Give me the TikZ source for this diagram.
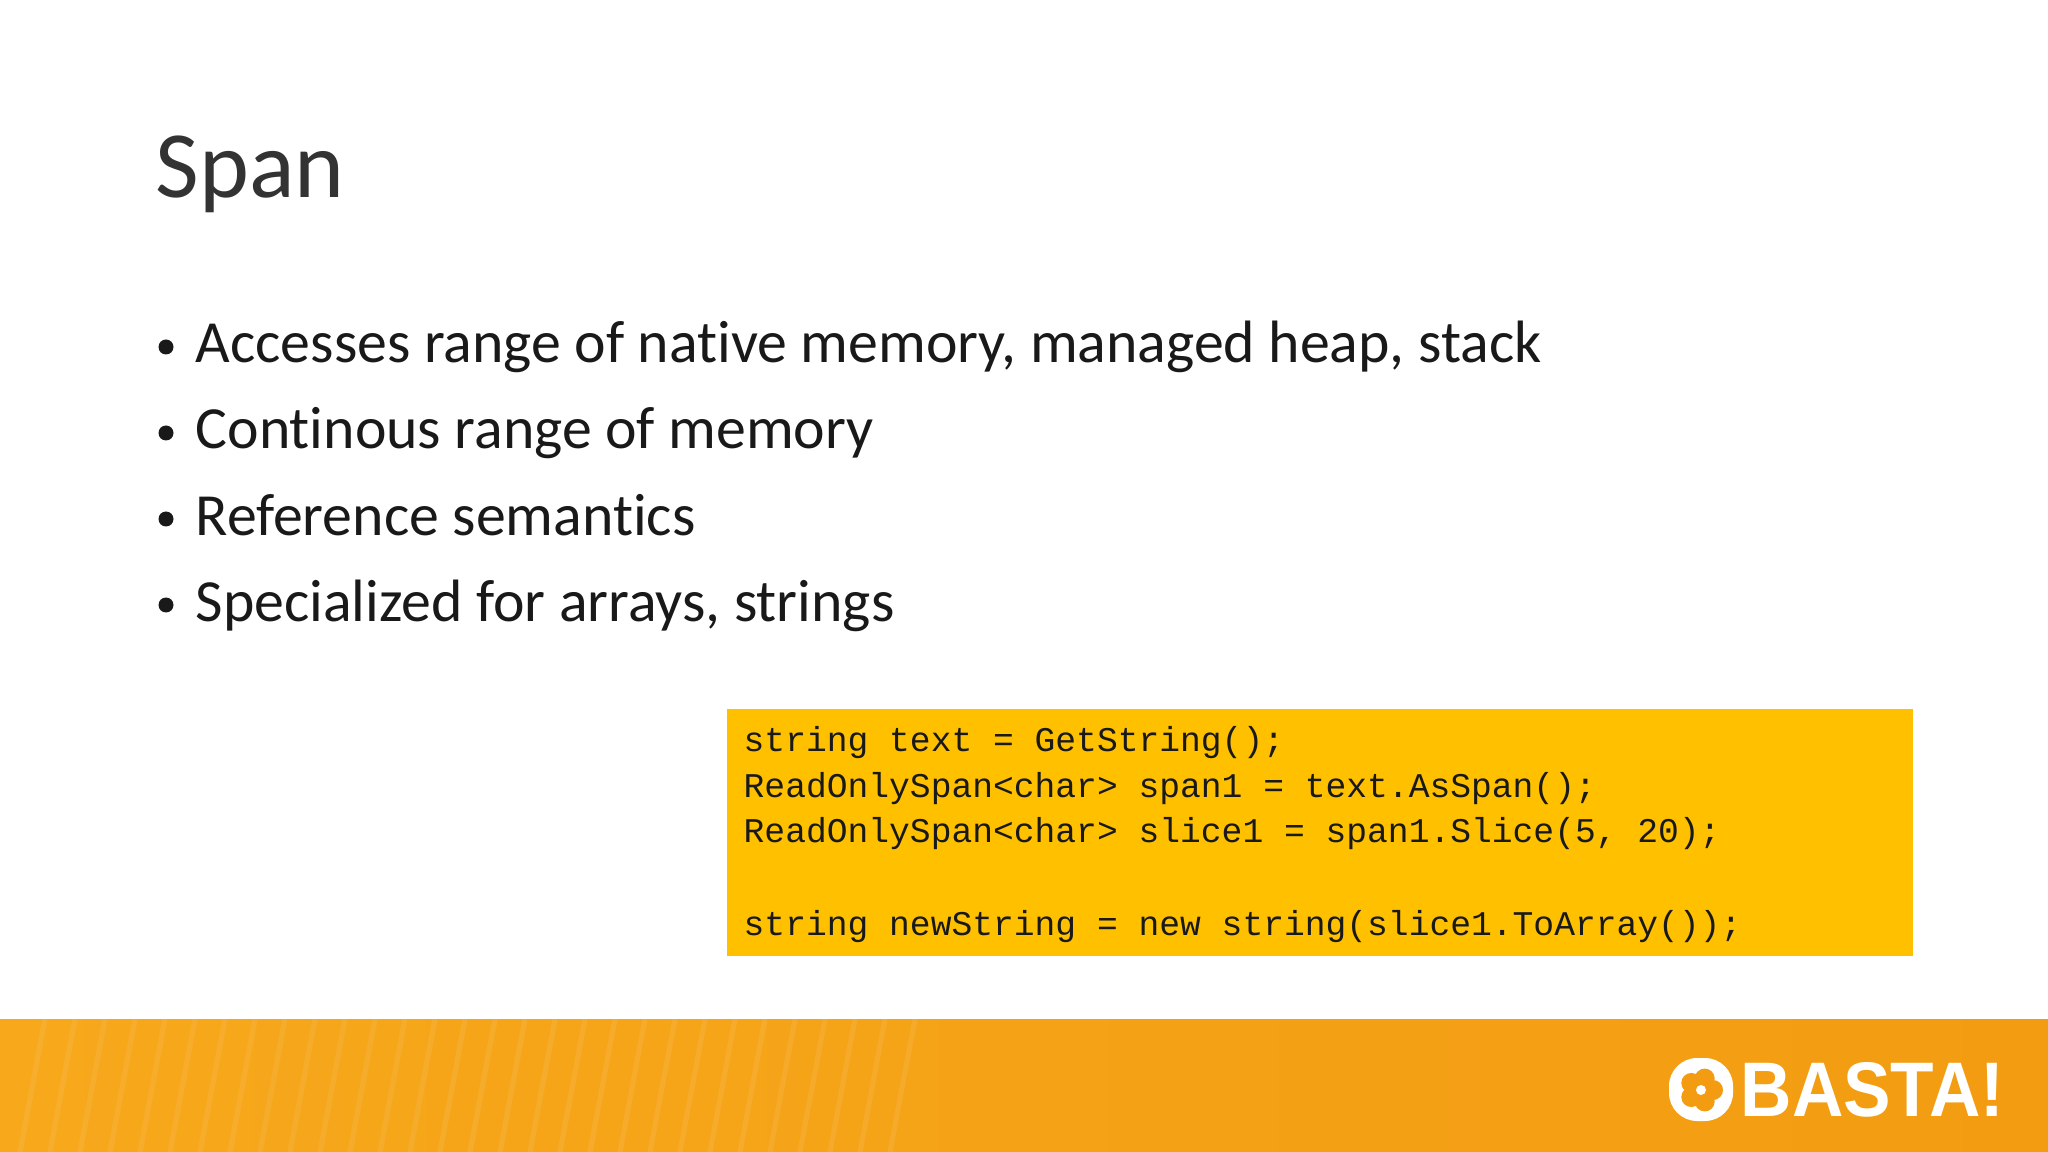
\documentclass[tikz,border=0pt]{standalone}
\usepackage{fontspec}
\setmainfont[Ligatures=NoCommon]{Carlito}
\newfontfamily\lightfont{Carlito}
\newfontfamily\codefont{Liberation Mono}
\newfontfamily\logofont{Liberation Sans}
\definecolor{codebg}{HTML}{FFC000}
\definecolor{bandA}{HTML}{F7A81B}
\definecolor{bandB}{HTML}{F39C12}
\tikzset{
  bullet/.style={anchor=base west, inner sep=0pt, font=\fontsize{17}{20}\selectfont, text=black!90},
  codeline/.style={anchor=base west, inner sep=0pt, font=\codefont\fontsize{9.85}{12}\selectfont, text=black!90}
}
\begin{document}
\begin{tikzpicture}[x=0.01cm,y=-0.01cm]
\useasboundingbox (0,0) rectangle (2048,1152);
\fill[white] (0,0) rectangle (2048,1152);
% title
\node[anchor=base west, inner sep=0pt, font=\lightfont\fontsize{27}{32}\selectfont, text=black!80] (title) at (155,198) {Span};
% bullets
\foreach \y/\t [count=\i] in {363/{Accesses range of native memory, managed heap, stack},449/{Continous range of memory},535/{Reference semantics},621/{Specialized for arrays, strings}}{
  \fill[black!90] (166,\y-16) circle (7.5);
  \node[bullet] (b\i) at (195,\y) {\t};
}
% code box
\fill[codebg] (727,709) rectangle (1913,956);
\node[codeline] (c1) at (743,751) {string text = GetString();};
\node[codeline] (c2) at (743,797) {ReadOnlySpan<char> span1 = text.AsSpan();};
\node[codeline] (c3) at (743,842) {ReadOnlySpan<char> slice1 = span1.Slice(5, 20);};
\node[codeline] (c4) at (743,935) {string newString = new string(slice1.ToArray());};
% band
\shade[left color=bandA, right color=bandB] (0,1019) rectangle (2048,1152);
\foreach \x in {20,50,...,900}{
  \draw[white, opacity=0.08, line width=1.5pt] (\x,1152) -- (\x+25,1019);
}
% logo
\fill[white, rounded corners=8] (1669,1058) rectangle (1733,1121);
\foreach \a in {0,72,...,288}{
  \fill[bandB] (1701,1090) ++(\a:12) circle (10);
}
\fill[white] (1701,1090) circle (5);
\node[anchor=west, inner sep=0pt, font=\logofont\bfseries\fontsize{22}{24}\selectfont, text=white, xscale=0.92] (logo) at (1740,1090) {BASTA!};
\end{tikzpicture}
\end{document}
